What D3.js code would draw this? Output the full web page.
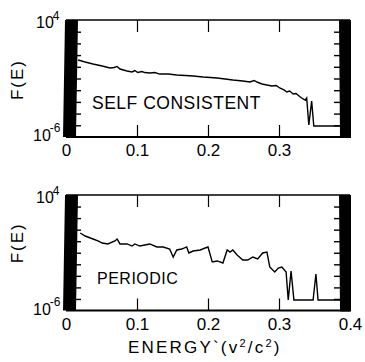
<!DOCTYPE html>
<html><head><meta charset="utf-8">
<script src="https://cdn.jsdelivr.net/npm/d3@7"></script>
<style>
body{margin:0;background:#fff;}
text{font-family:"Liberation Sans",Arial,sans-serif;fill:#000;}
</style></head>
<body><svg id="c" width="365" height="362"></svg>
<script>
// Data: energy (v^2/c^2) and log10 F(E)
const selfE = [0.017,0.027,0.038,0.051,0.062,0.068,0.072,0.076,0.086,0.093,0.097,0.101,0.107,0.111,0.118,0.125,0.132,0.144,0.156,0.168,0.179,0.193,0.203,0.213,0.224,0.235,0.249,0.259,0.265,0.269,0.276,0.283,0.290,0.296,0.301,0.307,0.311,0.315,0.320,0.324,0.330,0.334,0.337,0.339,0.342,0.346,0.349,0.386];
const selfLogF = [0.58,0.41,0.24,0.07,-0.10,-0.06,0.03,-0.19,-0.36,-0.44,-0.32,-0.49,-0.40,-0.49,-0.53,-0.49,-0.62,-0.62,-0.70,-0.74,-0.79,-0.87,-0.91,-0.96,-1.04,-1.13,-1.21,-1.30,-1.17,-1.30,-1.47,-1.56,-1.64,-1.60,-1.81,-1.98,-2.15,-2.07,-2.32,-2.28,-2.58,-2.75,-2.84,-2.67,-4.97,-2.92,-5.06,-5.06];
const perE = [0.020,0.027,0.038,0.045,0.051,0.059,0.069,0.072,0.076,0.086,0.093,0.097,0.104,0.111,0.118,0.128,0.137,0.146,0.151,0.156,0.163,0.170,0.173,0.179,0.189,0.196,0.200,0.206,0.213,0.221,0.227,0.231,0.235,0.241,0.249,0.256,0.263,0.270,0.277,0.283,0.287,0.294,0.299,0.304,0.310,0.313,0.317,0.321,0.348,0.352,0.355,0.386];
const perLogF = [0.71,0.45,0.19,0.02,-0.16,-0.24,0.02,0.19,-0.24,-0.24,-0.42,-0.24,-0.42,-0.33,-0.24,-0.50,-0.50,-0.68,-1.37,-0.76,-0.68,-0.50,-1.02,-0.85,-0.76,-0.59,-0.50,-1.80,-1.71,-1.89,-0.76,-0.94,-0.76,-1.19,-1.63,-1.63,-1.37,-1.54,-1.02,-0.94,-2.23,-2.67,-2.32,-2.23,-2.67,-5.09,-2.58,-5.09,-5.09,-2.84,-5.09,-5.09];
const xTicks = [0,0.1,0.2,0.3,0.4];
const yDecades = [-5,-4,-3,-2,-1,0,1,2,3];
const yTopExp = "4", yBotExp = "-6";

const svg = d3.select("#c");
const x = d3.scaleLinear().domain([0,0.4]).range([66,350]);
const bandW = 12;

function panel(top, bottom, E, L, label, labelSize, labelPos, showLast){
  const y = d3.scaleLinear().domain([-6,4]).range([bottom, top]);
  const g = svg.append("g");
  g.append("line").attr("x1",x(0)).attr("x2",x(0.4)).attr("y1",y(4)).attr("y2",y(4)).attr("stroke","#000").attr("stroke-width",1.6);
  g.append("line").attr("x1",x(0)).attr("x2",x(0.4)).attr("y1",y(-6)).attr("y2",y(-6)).attr("stroke","#000").attr("stroke-width",2.2);
  const l0 = x(0)-1;
  g.append("path").attr("d",`M${l0},${top}L${l0+bandW+1},${top}L${l0+bandW-1},${bottom}L${l0-2},${bottom}Z`).attr("fill","#000");
  const r1 = x(0.4)+1;
  g.append("path").attr("d",`M${r1-bandW},${top}L${r1},${top}L${r1},${bottom+1}L${r1-bandW+1},${bottom+1}Z`).attr("fill","#000");
  const ly = d3.axisRight(y).tickValues(yDecades).tickSize(5).tickFormat("");
  g.append("g").attr("transform",`translate(${l0+bandW-1},0)`).call(ly).call(s=>s.select(".domain").remove()).selectAll("line").attr("stroke-width",1.4);
  const ry = d3.axisLeft(y).tickValues(yDecades).tickSize(6).tickFormat("");
  g.append("g").attr("transform",`translate(${r1-bandW+1},0)`).call(ry).call(s=>s.select(".domain").remove()).selectAll("line").attr("stroke-width",1.4);
  const inner = [0.1,0.2,0.3];
  g.append("g").attr("transform",`translate(0,${y(4)})`).call(d3.axisTop(x).tickValues(inner).tickSize(-12).tickFormat(""))
    .call(s=>s.select(".domain").remove()).selectAll("line").attr("stroke-width",1.2);
  const ticksShown = showLast ? xTicks : xTicks.slice(0,4);
  const bx = g.append("g").attr("transform",`translate(0,${y(-6)})`).call(d3.axisBottom(x).tickValues(ticksShown).tickSize(-12).tickPadding(7).tickFormat(d=>d===0?"0":d.toFixed(1)));
  bx.select(".domain").remove();
  bx.selectAll("line").attr("stroke-width",1.2).filter(d=>d===0||d===0.4).remove();
  bx.selectAll("text").attr("font-size",17).attr("font-family","Liberation Sans,Arial,sans-serif").attr("fill","#000");
  const line = d3.line().x((d,i)=>x(E[i])).y(d=>y(d));
  g.append("path").datum(L).attr("d",line).attr("fill","none").attr("stroke","#000").attr("stroke-width",1.4).attr("stroke-linejoin","miter");
  const t1 = g.append("text").attr("x",36).attr("y",y(4)+8).attr("font-size",16);
  t1.append("tspan").text("10");
  t1.append("tspan").attr("dx",-1).attr("dy",-8).attr("font-size",12).text(yTopExp);
  const t2 = g.append("text").attr("x",33).attr("y",y(-6)+4).attr("font-size",16);
  t2.append("tspan").text("10");
  t2.append("tspan").attr("dx",-1).attr("dy",-9).attr("font-size",12).text(yBotExp);
  g.append("text").attr("transform",`translate(23,${(top+bottom)/2-(top>100?11:0)+1}) rotate(-90)`).attr("text-anchor","middle")
    .attr("font-size",17).attr("letter-spacing",2).text("F(E)");
  g.append("text").attr("x",labelPos[0]).attr("y",labelPos[1]).attr("font-size",labelSize).attr("letter-spacing",0.5).text(label);
}

panel(20, 137, selfE, selfLogF, "SELF CONSISTENT", 17.5, [92,109], false);
panel(195, 310.5, perE, perLogF, "PERIODIC", 16, [97,284], true);

const xl = svg.append("text").attr("x",128).attr("y",353).attr("font-size",17).attr("letter-spacing",2.2);
xl.append("tspan").text("ENERGY`(v");
xl.append("tspan").attr("dy",-6).attr("font-size",11).text("2");
xl.append("tspan").attr("dy",6).text("/c");
xl.append("tspan").attr("dy",-6).attr("font-size",11).text("2");
xl.append("tspan").attr("dy",6).text(")");
</script></body></html>
